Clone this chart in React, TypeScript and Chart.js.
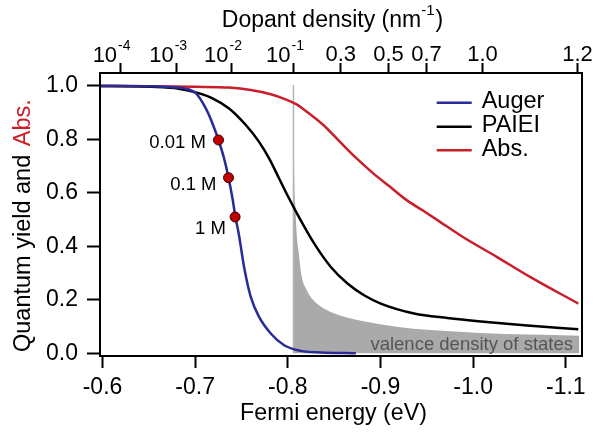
import React, { useEffect, useRef } from "react";
import { Chart, registerables } from "chart.js";

Chart.register(...registerables);

const FONT = '"Liberation Sans", Arial, Helvetica, sans-serif';

// ---- axes ----
const fermiTicks = [-0.6, -0.7, -0.8, -0.9, -1.0, -1.1];
const yTicks = [0.0, 0.2, 0.4, 0.6, 0.8, 1.0];
const xMin = -1.1175;
const xMax = -0.5973;
const yMin = -0.0101;
const yMax = 1.0486;

// top axis: dopant density ticks (placed at the Fermi energy they correspond to)
const dopantTickEnergies = [-0.619, -0.68, -0.7392, -0.8061, -0.8572, -0.9087, -0.9497, -1.0101, -1.1126];
const dopantTickBases = ["10", "10", "10", "10", "0.3", "0.5", "0.7", "1.0", "1.2"];
const dopantTickExponents = ["-4", "-3", "-2", "-1", "", "", "", "", ""];

// ---- series ----
const augerE = [-0.597, -0.62, -0.65, -0.67, -0.69, -0.7007, -0.7115, -0.7187, -0.7252, -0.7312, -0.736, -0.7403, -0.7431, -0.7474, -0.7528, -0.76, -0.769, -0.7816, -0.796, -0.814, -0.8356, -0.8734];
const augerY = [1.0, 1.0, 0.999, 0.996, 0.99, 0.973, 0.916, 0.86, 0.798, 0.729, 0.657, 0.579, 0.517, 0.44, 0.323, 0.211, 0.136, 0.074, 0.03, 0.009, 0.003, 0.0];

const paieiE = [-0.597, -0.63, -0.652, -0.6823, -0.7007, -0.7187, -0.7366, -0.7547, -0.769, -0.7798, -0.7906, -0.8014, -0.8104, -0.8284, -0.8464, -0.8644, -0.8823, -0.9003, -0.9363, -0.9723, -1.0083, -1.055, -1.1135];
const paieiY = [1.0, 0.999, 0.997, 0.99, 0.976, 0.954, 0.916, 0.854, 0.791, 0.729, 0.654, 0.579, 0.52, 0.411, 0.323, 0.261, 0.217, 0.186, 0.149, 0.132, 0.119, 0.105, 0.09];

const absE = [-0.597, -0.65, -0.7, -0.7366, -0.76, -0.7816, -0.799, -0.809, -0.8204, -0.8383, -0.8563, -0.8743, -0.8922, -0.9103, -0.9283, -0.9462, -0.9607, -0.9894, -1.0254, -1.0614, -1.1135];
const absY = [1.0, 0.999, 0.997, 0.994, 0.985, 0.969, 0.948, 0.932, 0.904, 0.854, 0.791, 0.729, 0.673, 0.623, 0.573, 0.533, 0.5, 0.434, 0.361, 0.286, 0.186];

const bandEdge = -0.8061;
const dosE = [-0.8061, -0.8064, -0.807, -0.808, -0.8095, -0.8115, -0.8151, -0.8205, -0.8277, -0.8457, -0.8637, -0.8996, -0.9355, -0.9716, -1.0074, -1.06, -1.1145];
const dosY = [1.005, 0.85, 0.65, 0.56, 0.45, 0.385, 0.285, 0.236, 0.198, 0.155, 0.134, 0.109, 0.092, 0.083, 0.076, 0.07, 0.066];

const markerE = [-0.7252, -0.736, -0.7431];
const markerY = [0.798, 0.657, 0.51];
const markerLabels = ["0.01 M", "0.1 M", "1 M"];

const legendLabels = ["Auger", "PAIEI", "Abs."];

const BLUE = "#2a2a98";
const RED = "#c81f2a";
const BLACK = "#000000";
const GRAY = "#aaaaaa";

const zip = (xs: number[], ys: number[]) => xs.map((x, i) => ({ x, y: ys[i] }));

export default function App() {
  const canvasRef = useRef<HTMLCanvasElement | null>(null);

  useEffect(() => {
    const canvas = canvasRef.current;
    if (!canvas) return;

    const overlay = {
      id: "overlay",
      afterDraw(chart: any) {
        const ctx = chart.ctx as CanvasRenderingContext2D;
        const { left, right, top, bottom } = chart.chartArea;
        const xs = chart.scales.x;
        const ys = chart.scales.y;
        const x2 = chart.scales.x2;
        ctx.save();

        // frame
        ctx.strokeStyle = "#000";
        ctx.lineWidth = 2;
        ctx.strokeRect(left, top, right - left, bottom - top);

        // top tick labels
        ctx.fillStyle = "#000";
        ctx.textBaseline = "alphabetic";
        dopantTickEnergies.forEach((e, i) => {
          const px = x2.getPixelForValue(e);
          const base = dopantTickBases[i];
          const exp = dopantTickExponents[i];
          if (exp) {
            ctx.font = `22px ${FONT}`;
            ctx.textAlign = "right";
            ctx.fillText(base, px - 3, top - 11.5);
            ctx.font = `14px ${FONT}`;
            ctx.textAlign = "left";
            ctx.fillText(exp, px - 2, top - 23);
          } else {
            ctx.font = `22px ${FONT}`;
            ctx.textAlign = "center";
            ctx.fillText(base, px, top - 12.5);
          }
        });

        // top title with superscript
        {
          const main = "Dopant density (nm";
          const sup = "-1";
          const close = ")";
          ctx.font = `23px ${FONT}`;
          const w1 = ctx.measureText(main).width;
          const w3 = ctx.measureText(close).width;
          ctx.font = `15px ${FONT}`;
          const w2 = ctx.measureText(sup).width;
          const total = w1 + w2 + w3 + 1;
          const x0 = 332.5 - total / 2;
          const base = 27;
          ctx.textAlign = "left";
          ctx.font = `23px ${FONT}`;
          ctx.fillText(main, x0, base);
          ctx.font = `15px ${FONT}`;
          ctx.fillText(sup, x0 + w1, base - 12);
          ctx.font = `23px ${FONT}`;
          ctx.fillText(close, x0 + w1 + w2 + 1, base);
        }

        // bottom title
        ctx.font = `23.2px ${FONT}`;
        ctx.textAlign = "center";
        ctx.fillText("Fermi energy (eV)", 333.5, 420);

        // left title, two colours
        ctx.save();
        ctx.translate(29.5, 352);
        ctx.rotate(-Math.PI / 2);
        ctx.font = `23.5px ${FONT}`;
        ctx.textAlign = "left";
        const part1 = "Quantum yield and ";
        ctx.fillStyle = "#000";
        ctx.fillText(part1, 0, 0);
        const pw = ctx.measureText(part1).width;
        ctx.fillStyle = RED;
        ctx.fillText("Abs.", pw + 2, 0);
        ctx.restore();

        // legend
        const legendColors = [BLUE, BLACK, RED];
        const legendY = [102.7, 126.7, 150.3];
        legendLabels.forEach((lab, i) => {
          ctx.strokeStyle = legendColors[i];
          ctx.lineWidth = 2.5;
          ctx.beginPath();
          ctx.moveTo(436.7, legendY[i]);
          ctx.lineTo(471.7, legendY[i]);
          ctx.stroke();
          ctx.fillStyle = "#000";
          ctx.font = `23.5px ${FONT}`;
          ctx.textAlign = "left";
          ctx.fillText(lab, 481.7, legendY[i] + 5.6);
        });

        // marker labels
        const offs = [
          { dx: -12.7, dy: 7.7 },
          { dx: -12, dy: 12.3 },
          { dx: -9.3, dy: 16.7 },
        ];
        ctx.fillStyle = "#000";
        ctx.font = `18.5px ${FONT}`;
        ctx.textAlign = "right";
        markerLabels.forEach((lab, i) => {
          const px = xs.getPixelForValue(markerE[i]);
          const py = ys.getPixelForValue(markerY[i]);
          ctx.fillText(lab, px + offs[i].dx, py + offs[i].dy);
        });

        // DOS label
        ctx.fillStyle = "#555555";
        ctx.font = `18.5px ${FONT}`;
        ctx.textAlign = "right";
        ctx.fillText("valence density of states", 573, 350);

        ctx.restore();
      },
    };

    const tickFont = { family: FONT, size: 23 };

    const chart = new Chart(canvas, {
      type: "line",
      data: {
        datasets: [
          {
            label: "markers",
            data: zip(markerE, markerY),
            showLine: false,
            pointRadius: 5,
            pointBackgroundColor: "#c00000",
            pointBorderColor: "#3a0000",
            pointBorderWidth: 1,
          },
          {
            label: "Auger",
            data: zip(augerE, augerY),
            borderColor: BLUE,
            borderWidth: 2.5,
            pointRadius: 0,
            cubicInterpolationMode: "monotone",
            fill: false,
          },
          {
            label: "PAIEI",
            data: zip(paieiE, paieiY),
            borderColor: BLACK,
            borderWidth: 2.5,
            pointRadius: 0,
            cubicInterpolationMode: "monotone",
            fill: false,
          },
          {
            label: "Abs.",
            data: zip(absE, absY),
            borderColor: RED,
            borderWidth: 2.5,
            pointRadius: 0,
            cubicInterpolationMode: "monotone",
            fill: false,
          },
          {
            label: "edge",
            data: [
              { x: bandEdge, y: 0 },
              { x: bandEdge, y: 1.005 },
            ],
            borderColor: "#b4b4b4",
            borderWidth: 1.5,
            pointRadius: 0,
            tension: 0,
            fill: false,
          },
          {
            label: "DOS",
            data: zip(dosE, dosY),
            borderColor: "rgba(0,0,0,0)",
            borderWidth: 0,
            backgroundColor: GRAY,
            pointRadius: 0,
            cubicInterpolationMode: "monotone",
            fill: { value: 0 },
          },
        ],
      },
      options: {
        animation: false,
        responsive: false,
        maintainAspectRatio: false,
        layout: { padding: { left: 0, right: 12, top: 0, bottom: 0 } },
        plugins: {
          legend: { display: false },
          tooltip: { enabled: false },
          title: { display: false },
        },
        scales: {
          x: {
            type: "linear",
            position: "bottom",
            reverse: true,
            min: xMin,
            max: xMax,
            afterBuildTicks: (s: any) => {
              s.ticks = fermiTicks.map((v) => ({ value: v }));
            },
            afterFit: (s: any) => {
              s.height = 79;
            },
            ticks: {
              callback: (v: any) => Number(v).toFixed(1),
              font: tickFont,
              color: "#000",
              padding: 6,
              maxRotation: 0,
              autoSkip: false,
            },
            grid: {
              drawOnChartArea: false,
              drawTicks: true,
              tickLength: 12,
              tickWidth: 2,
              color: "#000",
            },
            border: { display: true, color: "#000", width: 2 },
          },
          x2: {
            type: "linear",
            position: "top",
            reverse: true,
            min: xMin,
            max: xMax,
            afterBuildTicks: (s: any) => {
              s.ticks = dopantTickEnergies.map((v) => ({ value: v }));
            },
            afterFit: (s: any) => {
              s.height = 73;
            },
            ticks: { display: false },
            grid: {
              drawOnChartArea: false,
              drawTicks: true,
              tickLength: 10,
              tickWidth: 2,
              color: "#000",
            },
            border: { display: true, color: "#000", width: 2 },
          },
          y: {
            type: "linear",
            position: "left",
            min: yMin,
            max: yMax,
            afterBuildTicks: (s: any) => {
              s.ticks = yTicks.map((v) => ({ value: v }));
            },
            afterFit: (s: any) => {
              s.width = 100;
            },
            ticks: {
              callback: (v: any) => Number(v).toFixed(1),
              font: tickFont,
              color: "#000",
              padding: 9,
            },
            grid: {
              drawOnChartArea: false,
              drawTicks: true,
              tickLength: 13,
              tickWidth: 2,
              color: "#000",
            },
            border: { display: true, color: "#000", width: 2 },
          },
        },
      },
      plugins: [overlay],
    } as any);

    return () => chart.destroy();
  }, []);

  return (
    <div style={{ position: "fixed", left: 0, top: 0, width: 594, height: 435, background: "#fff" }}>
      <canvas ref={canvasRef} width={594} height={435} style={{ display: "block", width: 594, height: 435 }} />
    </div>
  );
}
